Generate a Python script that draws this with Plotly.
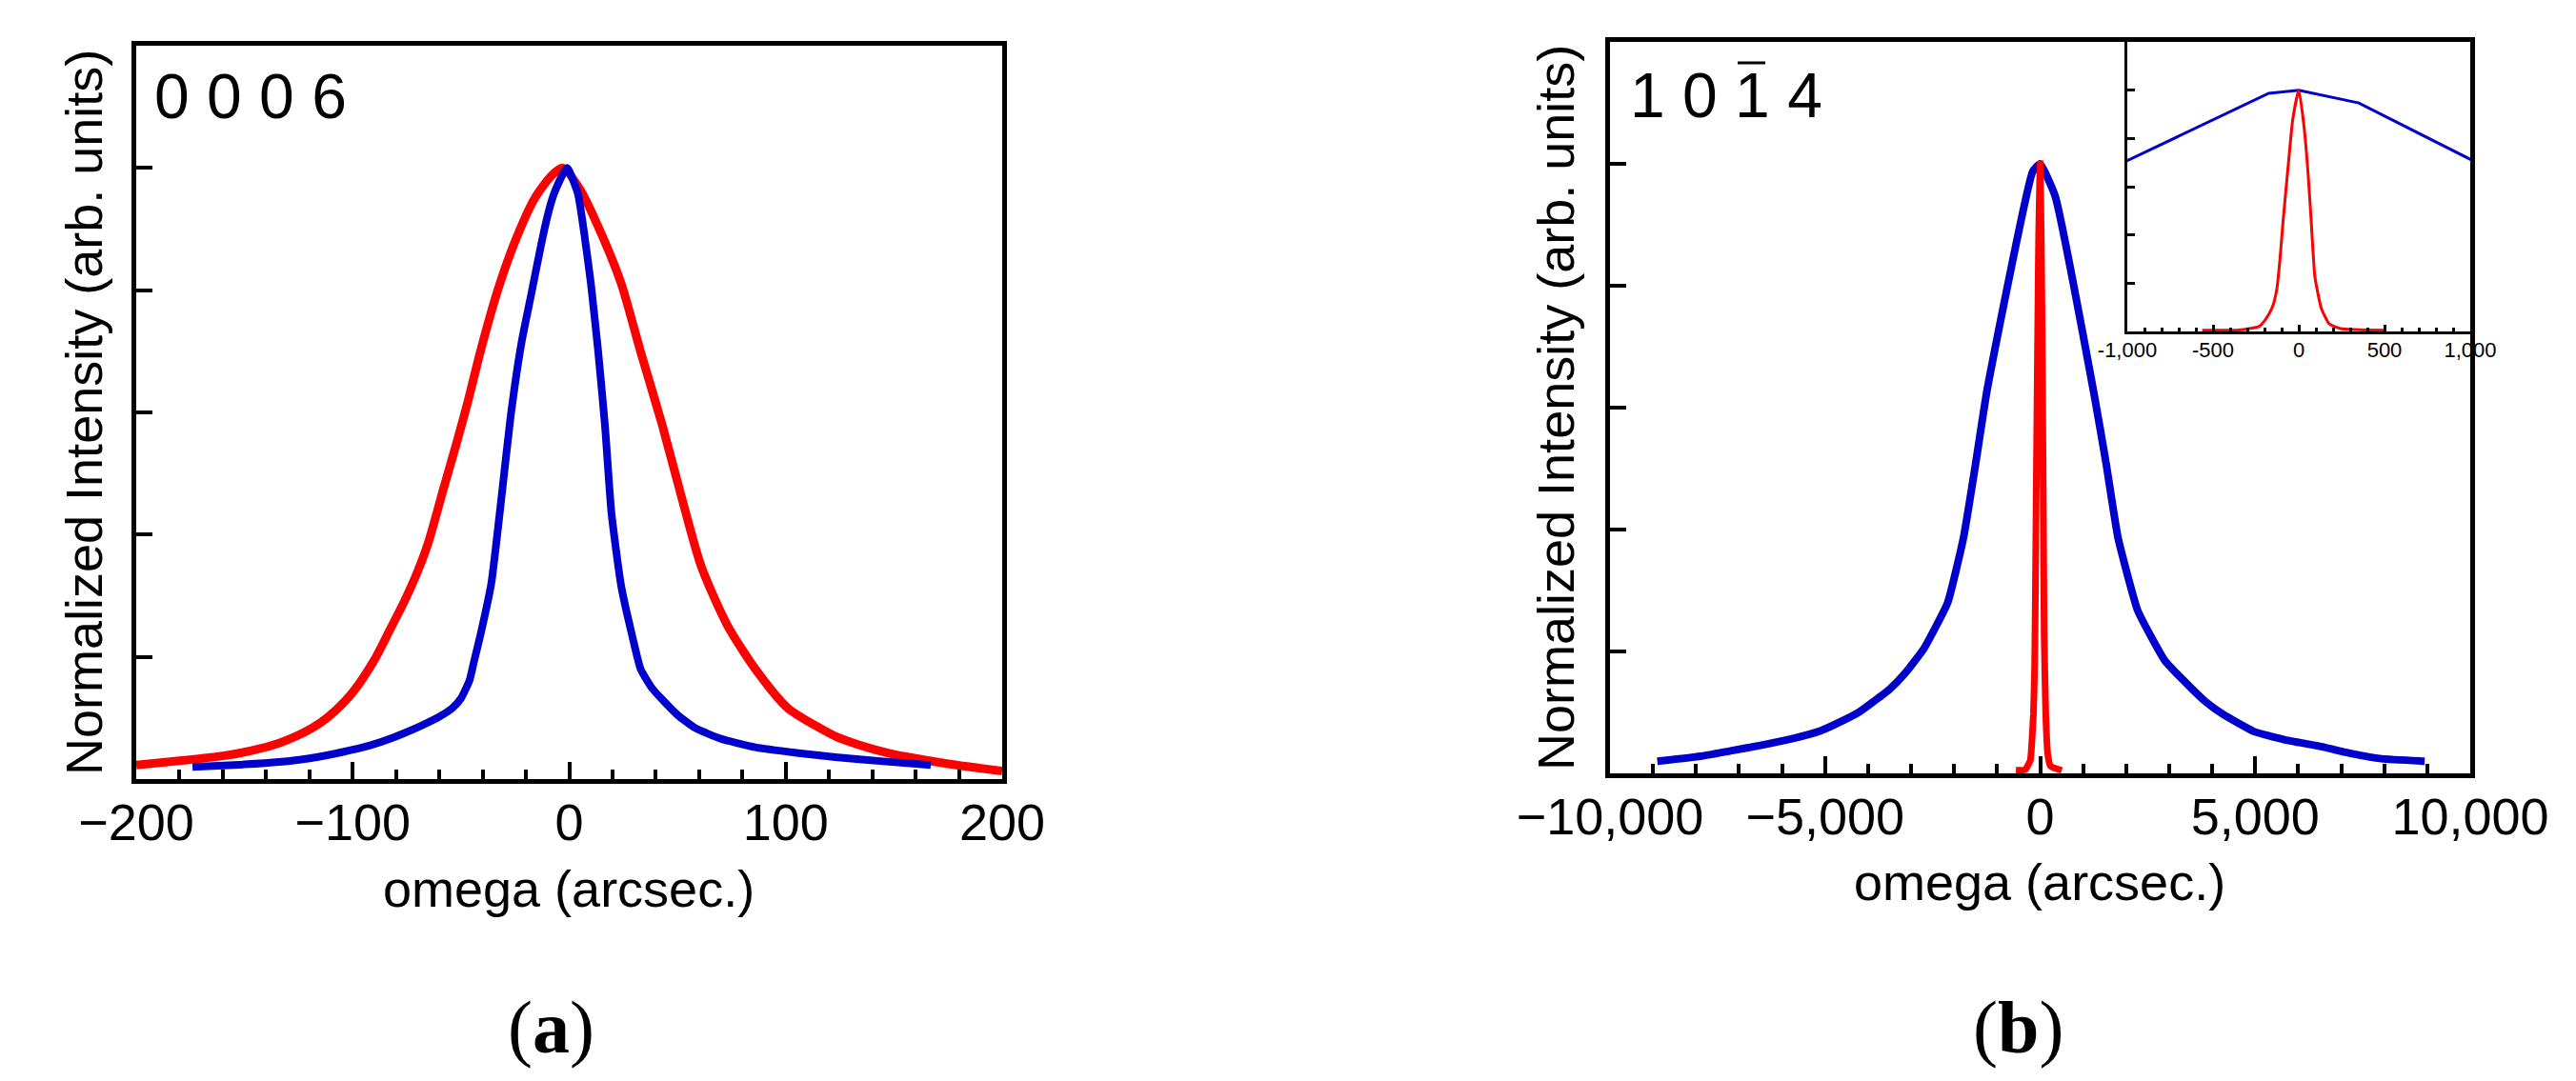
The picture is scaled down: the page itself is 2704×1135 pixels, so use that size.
import plotly.graph_objects as go

W, H = 2704, 1135

# Panel (a): 0006 rocking curves
omega_a_red = [-200, -180, -160, -145, -134, -125, -115, -108, -100, -90, -83, -76, -70, -65,
               -58, -52, -47, -41, -33, -25, -16, -8, -3, 5, 15, 24, 33, 43, 52, 61, 73, 86,
               101, 115, 123, 133, 148, 155, 175, 200]
int_a_red = [0.023, 0.030, 0.038, 0.048, 0.059, 0.072, 0.092, 0.112, 0.142, 0.195, 0.243, 0.292,
             0.340, 0.388, 0.476, 0.550, 0.615, 0.700, 0.800, 0.880, 0.950, 0.988, 1.000, 0.965,
             0.891, 0.811, 0.699, 0.579, 0.460, 0.348, 0.252, 0.180, 0.116, 0.085, 0.070, 0.057,
             0.042, 0.037, 0.025, 0.013]

omega_a_blue = [-174, -150, -134, -120, -105, -92, -82, -68, -60, -54, -50, -46, -44, -41, -36,
                -31, -27, -22, -17.5, -13, -10, -7, -1, 4, 7, 10, 13.4, 16.5, 19.5, 24, 29, 33,
                38, 43, 50, 58, 70, 86, 105, 123, 145, 167]
int_a_blue = [0.020, 0.024, 0.028, 0.034, 0.044, 0.055, 0.067, 0.088, 0.102, 0.116, 0.132, 0.162,
              0.192, 0.236, 0.320, 0.470, 0.595, 0.715, 0.794, 0.874, 0.922, 0.958, 1.000, 0.958,
              0.891, 0.811, 0.699, 0.579, 0.436, 0.316, 0.236, 0.180, 0.150, 0.130, 0.105, 0.084,
              0.066, 0.052, 0.043, 0.036, 0.029, 0.023]

# Panel (b): 10-14 rocking curves
omega_b_blue = [-8900, -7900, -7200, -6500, -5700, -5100, -4600, -4200, -3870, -3500, -3130,
                -2700, -2150, -1780, -1500, -1230, -175, 0, 350, 1260, 1535, 1810, 2270, 2900,
                3510, 3840, 4250, 4960, 5700, 6460, 7200, 7940, 8940]
int_b_blue = [0.020, 0.028, 0.037, 0.046, 0.058, 0.070, 0.086, 0.101, 0.118, 0.138, 0.165,
              0.205, 0.280, 0.387, 0.508, 0.630, 0.987, 1.000, 0.947, 0.620, 0.508, 0.387, 0.267,
              0.185, 0.140, 0.118, 0.097, 0.069, 0.055, 0.045, 0.033, 0.024, 0.020]

omega_b_red = [-563, -350, -230, -193, -156, -128, -109, -91, -57, -35, 0, 30, 54, 72, 94, 131,
               178, 243, 502]
int_b_red = [0.005, 0.006, 0.021, 0.051, 0.097, 0.175, 0.305, 0.462, 0.723, 0.879, 1.000, 0.853,
             0.657, 0.462, 0.227, 0.097, 0.031, 0.012, 0.005]

ticks_a = [-200, -100, 0, 100, 200]
labels_a = ["\u2212200", "\u2212100", "0", "100", "200"]
ticks_b = [-10000, -5000, 0, 5000, 10000]
labels_b = ["\u221210,000", "\u22125,000", "0", "5,000", "10,000"]
ticks_inset = [-1000, -500, 0, 500, 1000]
labels_inset = ["-1,000", "-500", "0", "500", "1,000"]
ticks_y = [0.2, 0.4, 0.6, 0.8, 1.0]

RED = "#FF0000"
BLUE = "#0000CC"
FONT = "Liberation Sans, Arial, sans-serif"

fig = go.Figure()
fig.add_trace(go.Scatter(x=omega_a_red, y=int_a_red, mode="lines",
                         line=dict(color=RED, width=9, shape="spline", smoothing=0.7),
                         xaxis="x", yaxis="y"))
fig.add_trace(go.Scatter(x=omega_a_blue, y=int_a_blue, mode="lines",
                         line=dict(color=BLUE, width=8, shape="spline", smoothing=0.5),
                         xaxis="x", yaxis="y"))
fig.add_trace(go.Scatter(x=omega_b_blue, y=int_b_blue, mode="lines",
                         line=dict(color=BLUE, width=8, shape="spline", smoothing=0.4),
                         xaxis="x2", yaxis="y2"))
fig.add_trace(go.Scatter(x=omega_b_red, y=int_b_red, mode="lines",
                         line=dict(color=RED, width=7, shape="spline", smoothing=0.5),
                         xaxis="x2", yaxis="y2"))
# inset: same scans, zoomed to +-1000 arcsec
fig.add_trace(go.Scatter(x=omega_b_blue, y=int_b_blue, mode="lines",
                         line=dict(color=BLUE, width=3), xaxis="x3", yaxis="y3"))
fig.add_trace(go.Scatter(x=omega_b_red, y=int_b_red, mode="lines",
                         line=dict(color=RED, width=3, shape="spline", smoothing=0.5),
                         xaxis="x3", yaxis="y3"))


def xax(dom, rng, tv, tt, dminor, anchor, size, lw, tl, mtl, tw, standoff, mirror=True):
    return dict(domain=dom, range=rng, anchor=anchor, showline=True, linewidth=lw,
                linecolor="black", mirror=mirror, ticks="inside", ticklen=tl, tickwidth=tw,
                tickcolor="black", tickmode="array", tickvals=tv, ticktext=tt,
                tickfont=dict(size=size, family=FONT, color="black"),
                ticklabelstandoff=standoff, showgrid=False, zeroline=False, automargin=False,
                minor=dict(tickmode="linear", tick0=rng[0], dtick=dminor, ticks="inside",
                           ticklen=mtl, tickwidth=tw, tickcolor="black", showgrid=False))


def yax(dom, anchor, lw, tl, tw, mirror=True):
    return dict(domain=dom, range=[0, 1.2], anchor=anchor, showline=True, linewidth=lw,
                linecolor="black", mirror=mirror, ticks="inside", ticklen=tl, tickwidth=tw,
                tickcolor="black", tickvals=ticks_y, showticklabels=False,
                showgrid=False, zeroline=False, automargin=False)


fig.update_layout(
    width=W, height=H, autosize=False, margin=dict(l=0, r=0, t=0, b=0, pad=0),
    paper_bgcolor="white", plot_bgcolor="rgba(0,0,0,0)", showlegend=False,
    xaxis=xax([143 / W, 1052 / W], [-200, 200], ticks_a, labels_a, 20, "y", 54, 5, 18, 10, 4, -6),
    yaxis=yax([1 - 818 / H, 1 - 48 / H], "x", 5, 17, 4),
    xaxis2=xax([1690 / W, 2593 / W], [-10000, 10000], ticks_b, labels_b, 1000, "y2", 54, 5, 18, 10, 4, -6),
    yaxis2=yax([1 - 812 / H, 1 - 44 / H], "x2", 5, 17, 4),
    xaxis3=xax([2233 / W, 2593 / W], [-1000, 1000], ticks_inset, labels_inset, 100, "y3", 22, 3, 7, 4, 2.5, -2, mirror=False),
    yaxis3=yax([1 - 348 / H, 1 - 44 / H], "x3", 3, 8, 2.5, mirror=False),
)

# Axis titles, reflection labels and panel letters
notes = [
    dict(x=597 / W, y=1 - 933 / H, text="omega (arcsec.)", size=54, angle=0, xanchor="center"),
    dict(x=2141 / W, y=1 - 926 / H, text="omega (arcsec.)", size=54, angle=0, xanchor="center"),
    dict(x=88 / W, y=1 - 433 / H, text="Normalized Intensity (arb. units)", size=54, angle=-90,
         xanchor="center"),
    dict(x=1633 / W, y=1 - 428 / H, text="Normalized Intensity (arb. units)", size=54, angle=-90,
         xanchor="center"),
    dict(x=160 / W, y=1 - 101 / H, text="0 0 0 6", size=66, angle=0, xanchor="left"),
    dict(x=1709 / W, y=1 - 100 / H, text="1 0 1 4", size=66, angle=0, xanchor="left"),
]
for n in notes:
    fig.add_annotation(x=n["x"], y=n["y"], xref="paper", yref="paper", text=n["text"],
                       showarrow=False, textangle=n["angle"], xanchor=n["xanchor"],
                       yanchor="middle", font=dict(size=n["size"], family=FONT, color="black"))

for letter, xc in [("a", 578), ("b", 2118)]:
    fig.add_annotation(x=xc / W, y=1 - 1078 / H, xref="paper", yref="paper",
                       text=f"(<b>{letter}</b>)", showarrow=False, xanchor="center",
                       yanchor="middle",
                       font=dict(size=78, family="Liberation Serif, Times New Roman, serif",
                                 color="black"))

# bar over the third Miller index in 1 0 -1 4
fig.add_shape(type="line", xref="paper", yref="paper", x0=1824 / W, x1=1853 / W,
              y0=1 - 66 / H, y1=1 - 66 / H, line=dict(color="black", width=3))

fig.write_html("out.html", config={"displayModeBar": False},
               post_script="document.body.style.margin='0';document.body.style.overflow='hidden';")
